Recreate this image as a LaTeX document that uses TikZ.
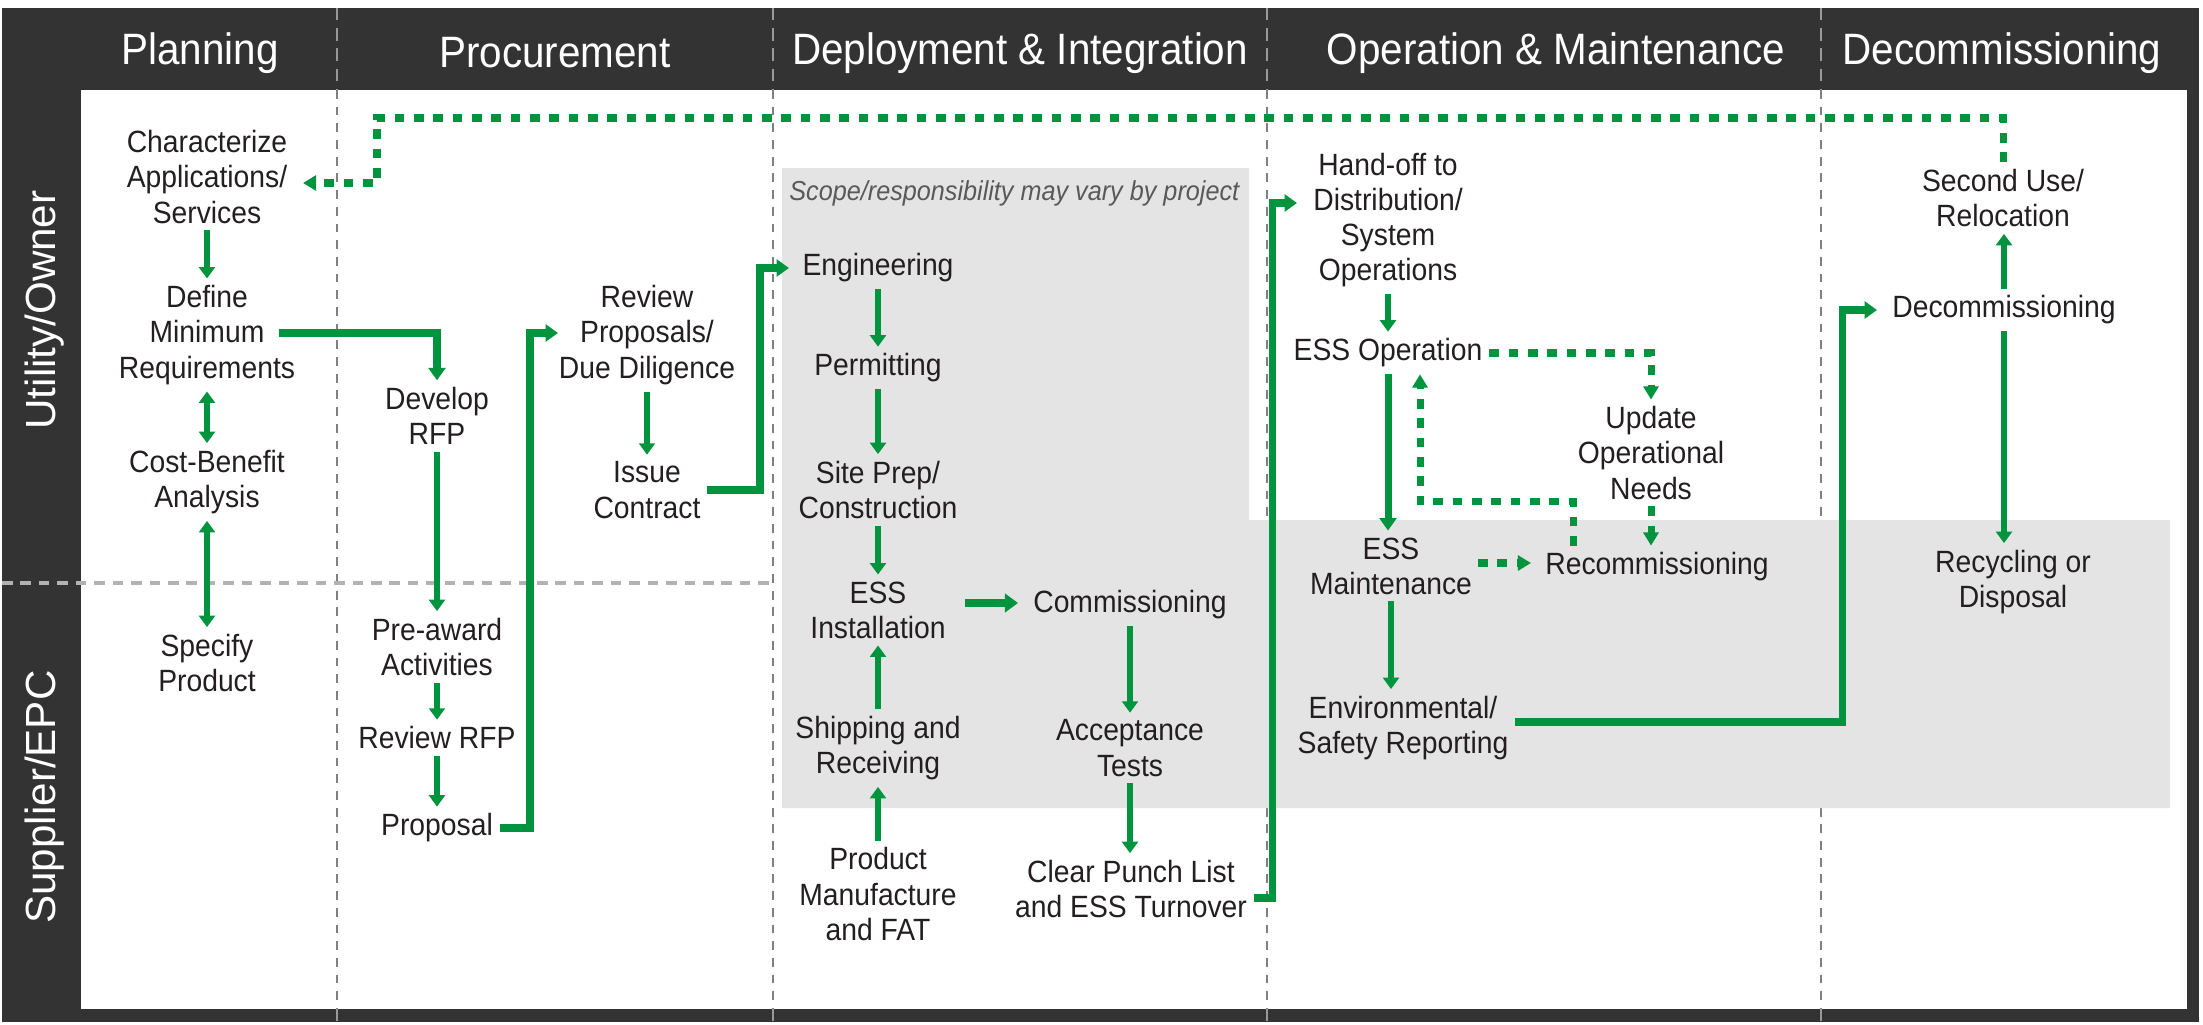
\documentclass[tikz,border=0pt]{standalone}
\usepackage{fontspec}
\setmainfont{Liberation Sans}
\newfontfamily\bodyfont{Liberation Sans}[FakeStretch=0.92]
\newfontfamily\headfont{Liberation Sans}[FakeStretch=0.92]
\usetikzlibrary{arrows.meta,calc}
\definecolor{grn}{HTML}{00943F}
\definecolor{framec}{HTML}{333333}
\definecolor{bandc}{HTML}{E4E4E4}
\definecolor{ink}{HTML}{231F20}
\begin{document}
\begin{tikzpicture}[x=0.02cm,y=-0.02cm,
  txt/.style={font=\bodyfont\fontsize{17.5}{20}\selectfont, text=ink, align=center, inner sep=0pt, outer sep=4pt},
  hdr/.style={font=\headfont\fontsize{25}{28}\selectfont, text=white, inner sep=0pt},
  rowlab/.style={font=\fontsize{24}{28}\selectfont, text=white, rotate=90, inner sep=0pt},
  arr/.style={draw=grn, line width=3pt, -{Triangle[width=9pt,length=6.5pt]}},
  darr/.style={draw=grn, line width=3pt, {Triangle[width=9pt,length=6.5pt]}-{Triangle[width=9pt,length=6.5pt]}},
  earr/.style={draw=grn, line width=4pt, line join=miter, -{Triangle[width=9.5pt,length=7pt]}},
  tarr/.style={draw=grn, line width=5pt, -{Triangle[width=10.5pt,length=7.5pt]}},
  dasharr/.style={draw=grn, line width=4pt, line join=miter, dash pattern=on 5.5pt off 5.5pt, -{Triangle[width=8.5pt,length=7.5pt]}},
  coldash/.style={draw=black!50, line width=1pt, dash pattern=on 5pt off 4.5pt},
  hdrdash/.style={draw=black!40, line width=1pt, dash pattern=on 7pt off 4.5pt},
  rowdash/.style={draw=black!30, line width=2pt, dash pattern=on 6pt off 4.5pt}
]
\useasboundingbox (0,0) rectangle (2203,1024);
\fill[white] (0,0) rectangle (2203,1024);
\fill[framec] (2,8) rectangle (2199,1022);
\fill[white] (81,90) rectangle (2187,1009);

% column separators
\foreach \cx in {337,773,1267,1821}{
  \draw[coldash] (\cx,90) -- (\cx,1009);
  \draw[hdrdash] (\cx,8) -- (\cx,90);
  \draw[hdrdash] (\cx,1009) -- (\cx,1022);
}
% row separator
\draw[rowdash] (2,583) -- (773,583);

% gray scope band
\fill[bandc] (782,168) -- (1249,168) -- (1249,520) -- (2170,520) -- (2170,808) -- (782,808) -- cycle;

% headers
\node[hdr] (h1) at (200,53) {Planning};
\node[hdr] (h2) at (555,53) {Procurement};
\node[hdr] (h3) at (1020,53) {Deployment \& Integration};
\node[hdr] (h4) at (1556,53) {Operation \& Maintenance};
\node[hdr] (h5) at (2002,53) {Decommissioning};

% row labels
\node[rowlab] (r1) at (45,310) {Utility/Owner};
\node[rowlab] (r2) at (45,797) {Supplier/EPC};

\node[font=\bodyfont\itshape\fontsize{15.6}{18}\selectfont, text=black!65, anchor=west, inner sep=0pt] (scope) at (789,193) {Scope/responsibility may vary by project};

% planning
\node[txt] (char) at (207,177) {Characterize\\Applications/\\Services};
\node[txt] (define) at (207,335) {Define\\Minimum\\Requirements};
\node[txt] (cost) at (207,482) {Cost-Benefit\\Analysis};
\node[txt] (specify) at (207,663) {Specify\\Product};
% procurement
\node[txt] (develop) at (437,416) {Develop\\RFP};
\node[txt] (preaward) at (437,647) {Pre-award\\Activities};
\node[txt] (reviewrfp) at (437,738) {Review RFP};
\node[txt] (proposal) at (437,828) {Proposal};
\node[txt] (reviewprop) at (647,335) {Review\\Proposals/\\Due Diligence};
\node[txt] (issue) at (647,490) {Issue\\Contract};
% deployment
\node[txt] (eng) at (878,268) {Engineering};
\node[txt] (permit) at (878,368) {Permitting};
\node[txt] (siteprep) at (878,490) {Site Prep/\\Construction};
\node[txt] (essinst) at (878,610) {ESS\\Installation};
\node[txt] (ship) at (878,748) {Shipping and\\Receiving};
\node[txt] (product) at (878,894) {Product\\Manufacture\\and FAT};
\node[txt] (comm) at (1130,605) {Commissioning};
\node[txt] (accept) at (1130,748) {Acceptance\\Tests};
\node[txt] (clear) at (1131,889) {Clear Punch List\\and ESS Turnover};
% operation
\node[txt] (handoff) at (1388,220) {Hand-off to\\Distribution/\\System\\Operations};
\node[txt] (essop) at (1388,353) {ESS Operation};
\node[txt] (update) at (1651,453) {Update\\Operational\\Needs};
\node[txt] (essmaint) at (1391,566) {ESS\\Maintenance};
\node[txt] (recomm) at (1657,567) {Recommissioning};
\node[txt] (env) at (1403,728) {Environmental/\\Safety Reporting};
% decommissioning
\node[txt] (decomm) at (2004,310) {Decommissioning};
\node[txt] (second) at (2003,198) {Second Use/\\Relocation};
\node[txt] (recycle) at (2013,582) {Recycling or\\Disposal};

% connectors - planning
\draw[arr] (char) -- (char |- define.north);
\draw[darr] (define) -- (define |- cost.north);
\draw[darr] (cost) -- (cost |- specify.north);
\draw[earr] ($(define)+(72,-2)$) -| (develop.north);
% procurement
\draw[arr] (develop) -- (develop |- preaward.north);
\draw[arr] (preaward) -- (preaward |- reviewrfp.north);
\draw[arr] (reviewrfp) -- (reviewrfp |- proposal.north);
\draw[earr] (proposal.east) -- ($(proposal)+(93,0)$) |- ($(reviewprop)+(-89,-2)$);
\draw[arr] (reviewprop) -- (reviewprop |- issue.north);
\draw[earr] (issue.east) -- ($(issue)+(113,0)$) |- ($(eng)+(-89,0)$);
% deployment
\draw[arr] (eng) -- (eng |- permit.north);
\draw[arr] (permit) -- (permit |- siteprep.north);
\draw[arr] (siteprep) -- (siteprep |- essinst.north);
\draw[arr] (ship) -- (ship |- essinst.south);
\draw[arr] (product) -- (product |- ship.south);
\draw[tarr] ($(essinst)+(87,-7)$) -- ($(comm)+(-112,-2)$);
\draw[arr] (comm) -- (comm |- accept.north);
\draw[arr] (accept) -- (accept |- clear.north);
\draw[earr] ($(clear.east)+(0,9)$) -- ($(clear)+(141,9)$) |- ($(handoff)+(-91,-17)$);
% operation
\draw[arr] (handoff) -- (handoff |- essop.north);
\draw[earr] (essop) -- (essop |- essmaint.north);
\draw[arr] (essmaint) -- (essmaint |- env.north);
\draw[earr] ($(env.east)+(0,-6)$) -- ($(env)+(439,-6)$) |- ($(decomm)+(-127,0)$);
\draw[dasharr] (essop.east) -| (update.north);
\draw[dasharr] (update) -- (update |- recomm.north);
\draw[dasharr] ($(essmaint)+(87,-3)$) -- ($(recomm)+(-126,-4)$);
\draw[dasharr] ($(recomm.north)+(-84,0)$) -- ++(0,-44) -| ($(essop.south)+(32,0)$);
% decommissioning
\draw[arr] (decomm) -- (decomm |- second.south);
\draw[arr] (decomm) -- (decomm |- recycle.north);
\draw[dasharr] (second.north) |- ($(char)+(170,-59)$) -- ($(char)+(170,6)$) -- ($(char)+(96,6)$);
\end{tikzpicture}
\end{document}
